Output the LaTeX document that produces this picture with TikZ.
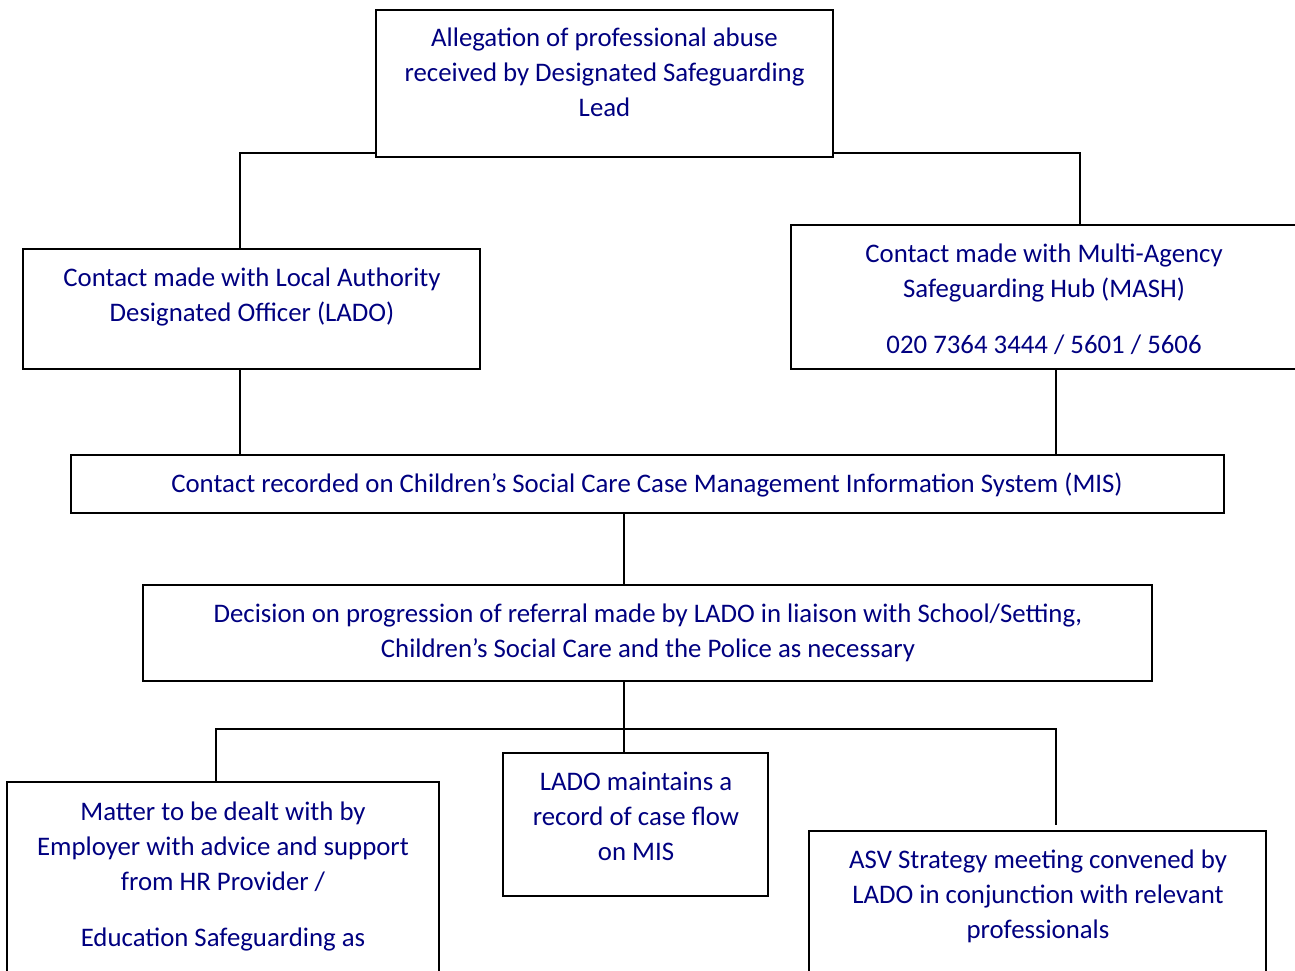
\documentclass[tikz,border=0pt]{standalone}
\usepackage{fontspec}
\setmainfont{Carlito}
\definecolor{navytext}{RGB}{0,0,128}
\tikzset{
  box/.style={draw=black, line width=1.6pt, minimum width=#1, inner sep=0pt},
  txt/.style={text=navytext, align=center, inner sep=0pt, font=\fontsize{26.8}{35}\selectfont},
  conn/.style={draw=black, line width=1.6pt}
}
\begin{document}
\begin{tikzpicture}[x=1pt,y=-1pt]
\useasboundingbox (0,0) rectangle (1295,971);
\clip (0,0) rectangle (1295,971);
% boxes
\node[box=457pt, minimum height=147pt] (top) at (604.5,83.5) {};
\node[box=457pt, minimum height=120pt] (lado) at (251.5,309) {};
\node[box=520pt, minimum height=144pt] (mash) at (1051,297) {};
\node[box=1153pt, minimum height=58pt] (mis) at (647.5,484) {};
\node[box=1009pt, minimum height=96pt] (dec) at (647.5,633) {};
\node[box=432pt, minimum height=240pt] (matter) at (223,902) {};
\node[box=265pt, minimum height=143pt] (rec) at (635.5,824.5) {};
\node[box=457pt, minimum height=200pt] (asv) at (1037.5,931) {};
% texts (anchored at the baseline of their last line)
\node[txt, anchor=base] (t1) at (604.5,117) {Allegation of professional abuse\\received by Designated Safeguarding\\Lead};
\node[txt, anchor=base] (t2) at (252,321) {Contact made with Local Authority\\Designated Officer (LADO)};
\node[txt, anchor=base] (t3) at (1044,353) {Contact made with Multi-Agency\\Safeguarding Hub (MASH)\\[21pt]020 7364 3444 / 5601 / 5606};
\node[txt, anchor=base] (t4) at (647,492) {Contact recorded on Children’s Social Care Case Management Information System (MIS)};
\node[txt, anchor=base] (t5) at (648,657) {Decision on progression of referral made by LADO in liaison with School/Setting,\\Children’s Social Care and the Police as necessary};
\node[txt, anchor=base] (t6) at (223,946) {Matter to be dealt with by\\Employer with advice and support\\from HR Provider /\\[21pt]Education Safeguarding as};
\node[txt, anchor=base] (t7) at (636,860) {LADO maintains a\\record of case flow\\on MIS};
\node[txt, anchor=base] (t8) at (1038,938) {ASV Strategy meeting convened by\\LADO in conjunction with relevant\\professionals};
% connector helpers
\coordinate (jl) at (240,153);
\coordinate (jr) at (1080,153);
\coordinate (bl) at (216,729);
\coordinate (bm) at (624,729);
\coordinate (br) at (1056,729);
\coordinate (asvend) at (1056,825);
% connectors
\draw[conn] (top.west |- jl) -- (jl) -- (jl |- lado.north);
\draw[conn] (top.east |- jr) -- (jr) -- (jr |- mash.north);
\draw[conn] (lado.south -| jl) -- (jl |- mis.north);
\draw[conn] (mash.south -| br) -- (br |- mis.north);
\draw[conn] (mis.south -| bm) -- (bm |- dec.north);
\draw[conn] (dec.south -| bm) -- (bm) -- (bm |- rec.north);
\draw[conn] (bl |- matter.north) -- (bl) -- (br) -- (asvend);
\end{tikzpicture}
\end{document}
